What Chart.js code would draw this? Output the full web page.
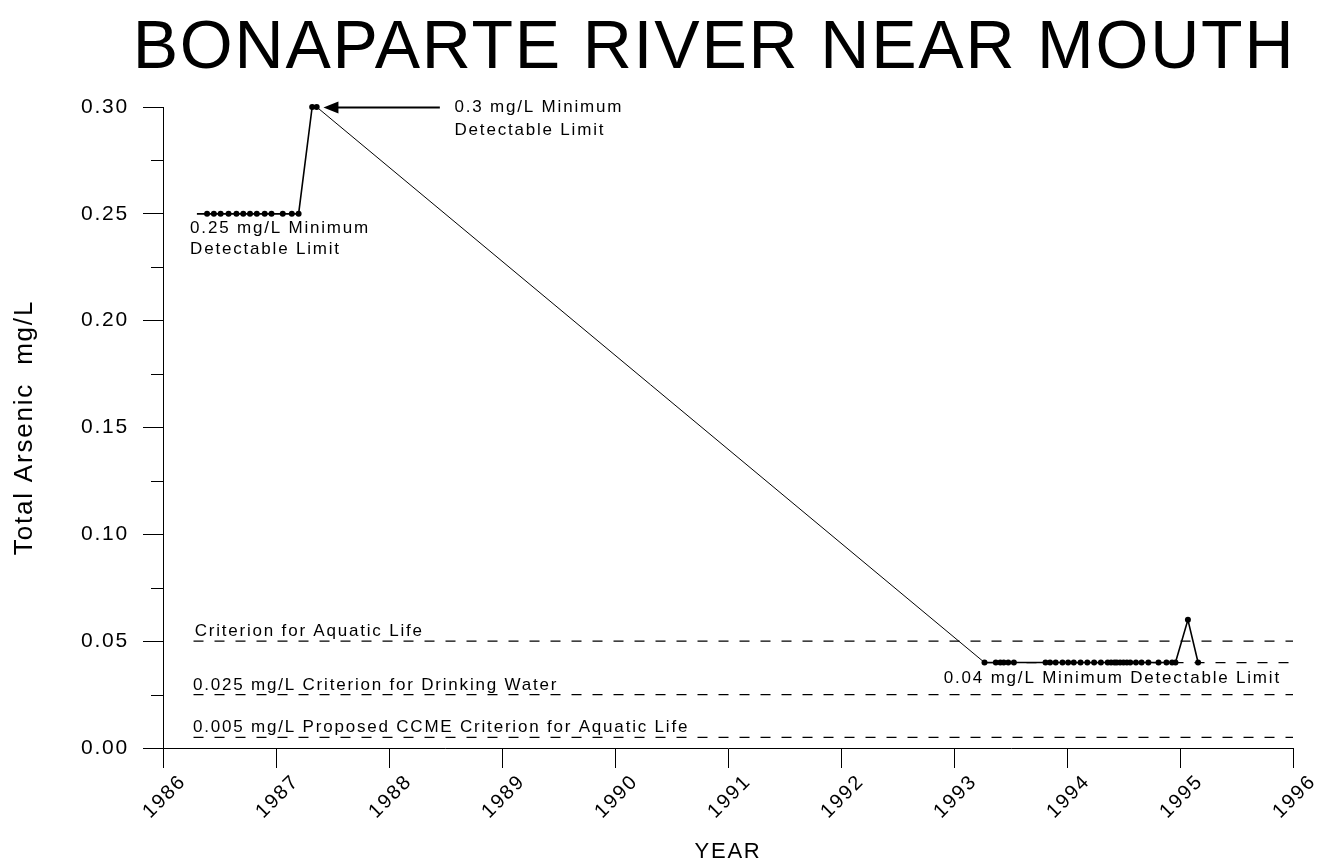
<!DOCTYPE html>
<html>
<head>
<meta charset="utf-8">
<title>Bonaparte River Near Mouth - Total Arsenic</title>
<script src="https://cdn.jsdelivr.net/npm/chart.js@4.4.1/dist/chart.umd.min.js"></script>
<style>
  html, body { margin: 0; padding: 0; background: #fff; }
  #chart { display: block; }
</style>
</head>
<body>
<canvas id="chart" width="1322" height="867"></canvas>
<script>
// Sample dates (decimal years) and total arsenic values (mg/L)
const sampleYears = [
  1986.30, 1986.39, 1986.45, 1986.51, 1986.58, 1986.65, 1986.71, 1986.77,
  1986.83, 1986.90, 1986.96, 1987.06, 1987.14, 1987.20, 1987.32, 1987.36,
  1993.27, 1993.37, 1993.41, 1993.44, 1993.48, 1993.53, 1993.81, 1993.85,
  1993.90, 1993.96, 1994.01, 1994.06, 1994.12, 1994.18, 1994.24, 1994.30,
  1994.36, 1994.39, 1994.42, 1994.44, 1994.47, 1994.50, 1994.53, 1994.56,
  1994.61, 1994.66, 1994.72, 1994.81, 1994.88, 1994.93, 1994.96, 1995.07,
  1995.16
];
const arsenicValues = [
  0.25, 0.25, 0.25, 0.25, 0.25, 0.25, 0.25, 0.25,
  0.25, 0.25, 0.25, 0.25, 0.25, 0.25, 0.30, 0.30,
  0.04, 0.04, 0.04, 0.04, 0.04, 0.04, 0.04, 0.04,
  0.04, 0.04, 0.04, 0.04, 0.04, 0.04, 0.04, 0.04,
  0.04, 0.04, 0.04, 0.04, 0.04, 0.04, 0.04, 0.04,
  0.04, 0.04, 0.04, 0.04, 0.04, 0.04, 0.04, 0.06,
  0.04
];

// Guideline levels (dashed lines)
const criterionLevels = [0.05, 0.025, 0.005];
const criterionFrom = 1986.27;
const mdlLevel = 0.04;
const mdlFrom = 1993.27;

// Axis ranges and ticks
const yearMin = 1986;
const yearMax = 1996;
const yMin = 0;
const yMax = 0.30;
const yMajorStep = 0.05;
const yMinorStep = 0.025;

const titleText = 'BONAPARTE RIVER NEAR MOUTH';

// Text notes placed in data units [year, mg/L]
const notes = [
  { text: '0.3 mg/L Minimum', at: [1988.58, 0.300] },
  { text: 'Detectable Limit', at: [1988.58, 0.289] },
  { text: '0.25 mg/L Minimum', at: [1986.24, 0.2434] },
  { text: 'Detectable Limit', at: [1986.24, 0.2335] },
  { text: 'Criterion for Aquatic Life', at: [1986.28, 0.0548] },
  { text: '0.025 mg/L Criterion for Drinking Water', at: [1986.265, 0.0295] },
  { text: '0.005 mg/L Proposed CCME Criterion for Aquatic Life', at: [1986.265, 0.0098] },
  { text: '0.04 mg/L Minimum Detectable Limit', at: [1992.91, 0.0328] }
];
const arrowFrom = [1988.45, 0.30];
const arrowTo = [1987.42, 0.30];

const FONT = '"Liberation Sans", Arial, sans-serif';
const SPACING = '1.8px';

const series = sampleYears.map((x, i) => ({ x: x, y: arsenicValues[i] }));

const dashed = criterionLevels.map(v => ({
  data: [{ x: criterionFrom, y: v }, { x: yearMax, y: v }],
  borderColor: '#000',
  borderWidth: 1.2,
  borderDash: [10, 11],
  pointRadius: 0
}));
dashed.push({
  data: [{ x: mdlFrom, y: mdlLevel }, { x: yearMax, y: mdlLevel }],
  borderColor: '#000',
  borderWidth: 1.2,
  borderDash: [10, 11],
  pointRadius: 0
});

// letter spacing like the original plot's text, white background
const spacingPlugin = {
  id: 'spacing',
  beforeLayout(chart) { chart.ctx.letterSpacing = SPACING; },
  beforeDraw(chart) {
    const ctx = chart.ctx;
    ctx.letterSpacing = SPACING;
    ctx.save();
    ctx.fillStyle = '#fff';
    ctx.fillRect(0, 0, chart.width, chart.height);
    ctx.restore();
  }
};

// title, minor ticks on the y axis, the notes and the arrow
const notesPlugin = {
  id: 'notes',
  afterDraw(chart) {
    const ctx = chart.ctx;
    const xs = chart.scales.x;
    const ys = chart.scales.y;
    const left = chart.chartArea.left;

    ctx.save();
    ctx.fillStyle = '#000';
    ctx.font = '68px ' + FONT;
    ctx.textAlign = 'center';
    ctx.textBaseline = 'alphabetic';
    ctx.fillText(titleText, 714, 68);

    ctx.strokeStyle = '#000';
    ctx.lineWidth = 1;
    for (let v = yMin + yMinorStep; v < yMax; v += yMajorStep) {
      const py = Math.round(ys.getPixelForValue(v)) + 0.5;
      ctx.beginPath();
      ctx.moveTo(left - 12, py);
      ctx.lineTo(left, py);
      ctx.stroke();
    }

    ctx.font = '17px ' + FONT;
    ctx.textAlign = 'left';
    ctx.textBaseline = 'middle';
    notes.forEach(n => {
      ctx.fillText(n.text, xs.getPixelForValue(n.at[0]), ys.getPixelForValue(n.at[1]));
    });

    const ax0 = xs.getPixelForValue(arrowFrom[0]);
    const ax1 = xs.getPixelForValue(arrowTo[0]);
    const ay = Math.round(ys.getPixelForValue(arrowFrom[1])) + 0.5;
    ctx.lineWidth = 2;
    ctx.beginPath();
    ctx.moveTo(ax0, ay);
    ctx.lineTo(ax1 + 10, ay);
    ctx.stroke();
    ctx.beginPath();
    ctx.moveTo(ax1, ay);
    ctx.lineTo(ax1 + 15, ay - 6);
    ctx.lineTo(ax1 + 15, ay + 6);
    ctx.closePath();
    ctx.fill();
    ctx.restore();
  }
};

new Chart(document.getElementById('chart'), {
  type: 'line',
  data: {
    datasets: [
      ...dashed,
      {
        label: 'Total Arsenic',
        data: series,
        clip: false,
        borderColor: '#000',
        borderWidth: 1.6,
        pointRadius: ctx => (ctx.dataIndex === 0 ? 0 : 3),
        pointBackgroundColor: '#000',
        pointBorderColor: '#000',
        pointBorderWidth: 0,
        segment: {
          borderWidth: ctx => (ctx.p1.parsed.x - ctx.p0.parsed.x > 1 ? 1 : 1.6)
        }
      }
    ]
  },
  options: {
    responsive: false,
    animation: false,
    events: [],
    layout: { padding: { left: 0, right: 29, top: 107, bottom: 0 } },
    plugins: {
      legend: { display: false },
      tooltip: { enabled: false },
      title: { display: false }
    },
    scales: {
      x: {
        type: 'linear',
        min: yearMin,
        max: yearMax,
        afterFit: s => { s.height = 119; },
        border: { display: true, color: '#000', width: 1 },
        grid: { drawOnChartArea: false, drawTicks: true, tickLength: 20, color: '#000' },
        ticks: {
          stepSize: 1,
          color: '#000',
          font: { family: FONT, size: 20 },
          minRotation: 45,
          maxRotation: 45,
          labelOffset: 20,
          padding: 2,
          callback: v => String(v)
        },
        title: {
          display: true,
          text: 'YEAR',
          color: '#000',
          font: { family: FONT, size: 22 },
          padding: { top: 0, bottom: 2 }
        }
      },
      y: {
        min: yMin,
        max: yMax,
        afterFit: s => { s.width = 163; },
        border: { display: true, color: '#000', width: 1 },
        grid: { drawOnChartArea: false, drawTicks: true, tickLength: 20, color: '#000' },
        ticks: {
          stepSize: yMajorStep,
          color: '#000',
          font: { family: FONT, size: 21 },
          padding: 14,
          callback: v => v.toFixed(2)
        },
        title: {
          display: true,
          text: 'Total Arsenic  mg/L',
          color: '#000',
          font: { family: FONT, size: 26 },
          padding: { top: 9, bottom: 0 }
        }
      }
    }
  },
  plugins: [spacingPlugin, notesPlugin]
});
</script>
</body>
</html>
